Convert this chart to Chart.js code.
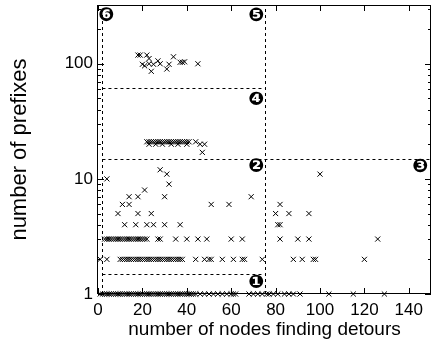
<!DOCTYPE html>
<html><head><meta charset="utf-8">
<script src="https://cdn.jsdelivr.net/npm/chart.js@4"></script>
<style>
html,body{margin:0;padding:0;background:#fff;overflow:hidden;width:433px;height:358px}
#wrap{width:436px;height:358px}
</style></head>
<body><div id="wrap"><canvas id="c" width="436" height="358" style="width:436px;height:358px"></canvas></div>
<script>
// ---- data ----
const xTickValues = [0, 20, 40, 60, 80, 100, 120, 140];
const yTickValues = [1, 10, 100];
const yMinorTickValues = [2, 3, 4, 5, 6, 7, 8, 9, 20, 30, 40, 50, 60, 70, 80, 90, 200, 300];

// nodes finding detours for prefixes count = 1
const nodesOnePrefix = [1,2,3,4,5,6,7,8,9,10,11,12,13,14,15,16,17,18,19,20,21,22,23,24,25,26,27,28,29,30,
  31,32,33,34,35,36,37,38,39,40,41,42,43,44,46,48,50,52,54,56,58,60,61,62,68,70,72,74,76,77,79,81,
  84,86,88,91,104,115,129];
// prefixes count = 2
const nodesTwoPrefixes = [1,4,10,11,12,13,14,15,16,17,18,19,20,21,22,23,24,25,26,27,28,29,30,31,32,33,
  34,35,36,37,38,44,48,50,51,56,61,65,66,74,88,92,97,98,120];
// prefixes count = 3
const nodesThreePrefixes = [3,4,5,6,7,8,9,10,11,12,13,14,15,16,17,18,19,20,21,22,27,28,35,40,45,49,60,65,
  82,90,95,126];
// band around 20 prefixes
const nodesBand = [22,23,24,25,26,27,28,29,30,31,32,33,34,35,36,37,38,39,40,41,23,26,29,33,36,40,44,46,48];
const prefixesBand = [21,21,21,21,21,21,21,21,21,21,21,21,21,21,21,21,21,21,21,21,20,20,20,20,20,20,21,20,20];
// remaining scattered points
const nodesOther = [12,17,22,25,30,37,81,82, 9,18,24,80,86,95, 11,14,51,59,82, 14,18,30,69, 21, 32, 4, 31,100, 28, 47,
  18,19,22,23,20,21,23,25,27,28,24,31,32,34,37,38,39,45];
const prefixesOther = [4,4,4,4,4,4,4,4, 5,5,5,5,5,5, 6,6,6,6,6, 7,7,7,7, 8, 9, 10, 11,11, 12, 17,
  119,119,119,111,99,96,100,99,106,100,86,90,99,115,103,103,104,100];

// region markers and guide lines (data coordinates)
const regionLabels = ['❶','❷','❸','❹','❺','❻'];
const regionLabelX = [71.3, 71.3, 145.2, 71.3, 71.3, 3.7];
const regionLabelY = [1.245, 12.6, 12.6, 48.8, 261, 261];
const X_MIN = 0, X_MAX = 150, Y_MIN = 1, Y_MAX = 324;
const guideLines = [
  [2, Y_MIN, 2, Y_MAX],
  [75, Y_MIN, 75, Y_MAX],
  [2, 1.5, 75, 1.5],
  [2, 15, X_MAX, 15],
  [2, 62, 75, 62]
];

const points = [];
nodesOnePrefix.forEach(v => points.push({x: v, y: 1}));
nodesTwoPrefixes.forEach(v => points.push({x: v, y: 2}));
nodesThreePrefixes.forEach(v => points.push({x: v, y: 3}));
nodesBand.forEach((v, i) => points.push({x: v, y: prefixesBand[i]}));
nodesOther.forEach((v, i) => points.push({x: v, y: prefixesOther[i]}));

const decor = {
  id: 'decor',
  beforeDatasetsDraw(chart) {
    const {ctx, chartArea: a, scales: {x, y}} = chart;
    ctx.save();
    ctx.strokeStyle = '#000';
    ctx.lineWidth = 1;
    // frame
    ctx.strokeRect(Math.round(a.left) - 0.5, Math.round(a.top) + 0.5,
      Math.round(a.right) - Math.round(a.left), Math.round(a.bottom) - Math.round(a.top) - 1);
    ctx.beginPath();
    xTickValues.forEach(v => {
      const px = Math.round(x.getPixelForValue(v)) + 0.5;
      ctx.moveTo(px, a.bottom); ctx.lineTo(px, a.bottom - 6);
      ctx.moveTo(px, a.top); ctx.lineTo(px, a.top + 6);
    });
    yTickValues.forEach(v => {
      const py = Math.round(y.getPixelForValue(v)) + 0.5;
      ctx.moveTo(a.left, py); ctx.lineTo(a.left + 6, py);
      ctx.moveTo(a.right, py); ctx.lineTo(a.right - 6, py);
    });
    yMinorTickValues.forEach(v => {
      if (v > Y_MAX) return;
      const py = Math.round(y.getPixelForValue(v)) + 0.5;
      ctx.moveTo(a.left, py); ctx.lineTo(a.left + 3, py);
      ctx.moveTo(a.right, py); ctx.lineTo(a.right - 3, py);
    });
    ctx.stroke();
    // guide lines
    ctx.setLineDash([3, 3]);
    ctx.beginPath();
    guideLines.forEach(([x1, y1, x2, y2]) => {
      let p1x = x.getPixelForValue(x1), p1y = y.getPixelForValue(y1);
      let p2x = x.getPixelForValue(x2), p2y = y.getPixelForValue(y2);
      if (x1 === x2) { p1x = p2x = Math.round(p1x) + 0.5; }
      if (y1 === y2) { p1y = p2y = Math.round(p1y) + 0.5; }
      ctx.moveTo(p1x, p1y); ctx.lineTo(p2x, p2y);
    });
    ctx.stroke();
    ctx.setLineDash([]);
    // region labels
    ctx.fillStyle = '#000';
    ctx.font = 'bold 19px "DejaVu Sans"';
    ctx.textAlign = 'center';
    ctx.textBaseline = 'middle';
    regionLabels.forEach((t, i) => {
      ctx.fillText(t, x.getPixelForValue(regionLabelX[i]), y.getPixelForValue(regionLabelY[i]));
    });
    ctx.restore();
  }
};

const font = {family: '"Liberation Sans", Arial, sans-serif', size: 17};

new Chart(document.getElementById('c'), {
  type: 'scatter',
  data: {datasets: [{
    data: points,
    pointStyle: 'crossRot',
    radius: 3.6,
    borderWidth: 1,
    borderColor: '#000',
    backgroundColor: '#000',
    clip: false
  }]},
  options: {
    responsive: false,
    animation: false,
    events: [],
    layout: {padding: {top: 4, right: 1, left: 0, bottom: 0}},
    plugins: {legend: {display: false}, tooltip: {enabled: false}},
    scales: {
      x: {
        type: 'linear', min: X_MIN, max: X_MAX,
        grid: {display: false, drawTicks: false},
        border: {display: false},
        afterBuildTicks: s => { s.ticks = xTickValues.map(v => ({value: v})); },
        afterFit: s => { s.height = 64; s.paddingLeft = 0; s.paddingRight = 0; s.paddingTop = 0; s.paddingBottom = 0; },
        ticks: {color: '#000', font, padding: 6, maxRotation: 0, autoSkip: false},
        title: {display: true, text: 'number of nodes finding detours', color: '#000',
          font: {family: font.family, size: 19}, padding: {top: 0, bottom: 17}}
      },
      y: {
        type: 'logarithmic', min: Y_MIN, max: Y_MAX,
        grid: {display: false, drawTicks: false},
        border: {display: false},
        afterBuildTicks: s => { s.ticks = yTickValues.map(v => ({value: v})); },
        afterFit: s => { s.width = 98; s.paddingLeft = 0; s.paddingRight = 0; s.paddingTop = 0; s.paddingBottom = 0; },
        ticks: {color: '#000', font, padding: 5, autoSkip: false, callback: v => String(v)},
        title: {display: true, text: 'number of prefixes', color: '#000',
          font: {family: font.family, size: 22}, padding: {top: 7, bottom: 0}}
      }
    }
  },
  plugins: [decor]
});
</script></body></html>
